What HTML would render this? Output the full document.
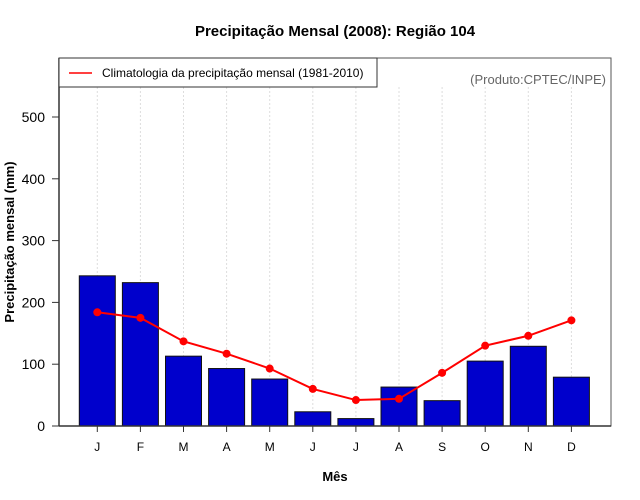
<!DOCTYPE html>
<html><head><meta charset="utf-8"><style>body{margin:0;background:#fff}svg{display:block;font-family:"Liberation Sans",sans-serif}</style></head>
<body>
<svg width="640" height="500" viewBox="0 0 640 500">
<text x="335" y="36" text-anchor="middle" font-size="15" font-weight="bold">Precipitação Mensal (2008): Região 104</text>
<rect x="59" y="58" width="552" height="368" fill="none" stroke="#555" stroke-width="1"/>
<g id="grid"></g><g id="bars"></g><g id="line"></g><g id="axes"></g>
<text x="335" y="481" text-anchor="middle" font-size="13" font-weight="bold">Mês</text>
<text transform="translate(14,242) rotate(-90)" text-anchor="middle" font-size="13" font-weight="bold">Precipitação mensal (mm)</text>
<g>
<rect x="59" y="58" width="318" height="29" fill="#fff" stroke="#333"/>
<line x1="69" y1="73" x2="92" y2="73" stroke="red" stroke-width="1.5"/>
<text x="102" y="77" font-size="12">Climatologia da precipitação mensal (1981-2010)</text>
</g>
<text x="606" y="84" text-anchor="end" font-size="13" fill="#666">(Produto:CPTEC/INPE)</text>
</svg>
<script>
const months=["J","F","M","A","M","J","J","A","S","O","N","D"];
const precip=[243,232,113,93,76,23,12,63,41,105,129,79];
const clim=[184,175,137,117,93,60,42,44,86,130,146,171];
const yTicks=[0,100,200,300,400,500];
const NS="http://www.w3.org/2000/svg";
const x=i=>97.3+i*43.1;
const y=v=>426-v*0.618;
function mk(t,a,p){const e=document.createElementNS(NS,t);for(const k in a)e.setAttribute(k,a[k]);p.appendChild(e);return e;}
const G=document.getElementById('grid'),B=document.getElementById('bars'),L=document.getElementById('line'),A=document.getElementById('axes');
months.forEach((m,i)=>{
 const g=mk('line',{x1:x(i),x2:x(i),y1:87,y2:426,stroke:'#ddd','stroke-dasharray':'2,2'},G);
 
 
 const r=mk('rect',{x:x(i)-18,y:y(precip[i]),width:36,height:426-y(precip[i]),fill:'#0000cc',stroke:'#111','stroke-width':1},B);
 
 
 const t=mk('line',{x1:x(i),x2:x(i),y1:426,y2:432,stroke:'#333'},A);
 
 
 const l=mk('text',{x:x(i),y:451,'text-anchor':'middle','font-size':12},A);l.textContent=m;
 
 
});
const pl=mk('polyline',{points:clim.map((v,i)=>x(i)+','+y(v)).join(' '),fill:'none',stroke:'red','stroke-width':2},L);


clim.forEach((v,i)=>{const c=mk('circle',{cx:x(i),cy:y(v),r:4,fill:'red'},L);
 
 });
const ax=mk('line',{x1:59,x2:59,y1:58,y2:426,stroke:'#333','stroke-width':1.5},A);


const bx=mk('line',{x1:59,x2:611,y1:426,y2:426,stroke:'#333','stroke-width':1.5},A);


yTicks.forEach(v=>{
 const t=mk('line',{x1:52,x2:59,y1:y(v),y2:y(v),stroke:'#333'},A);
 
 
 const l=mk('text',{x:45,y:y(v)+5,'text-anchor':'end','font-size':14},A);l.textContent=v;
 
 
});
</script>
</body></html>
